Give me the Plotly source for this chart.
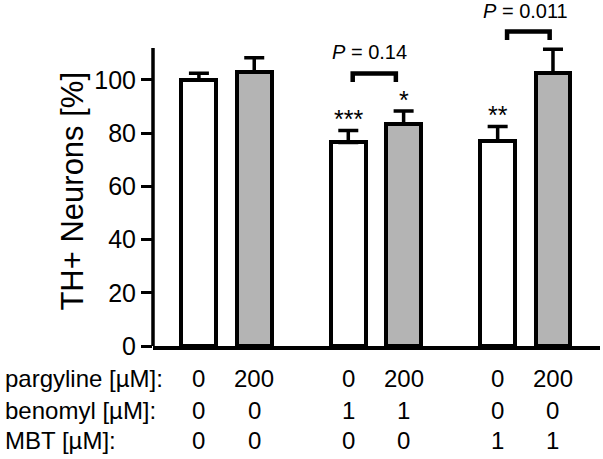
import plotly.graph_objects as go

# ---- data ----
positions = [0, 1, 2.7, 3.7, 5.4, 6.4]
values = [100, 103, 76.5, 83.5, 77, 102.5]
errors = [2.5, 5.3, 4.5, 4.8, 5.5, 9.0]
fills = ["white", "#b4b4b4", "white", "#b4b4b4", "white", "#b4b4b4"]
stars = ["", "", "***", "*", "**", ""]

pargyline = ["0", "200", "0", "200", "0", "200"]
benomyl = ["0", "0", "1", "1", "0", "0"]
mbt = ["0", "0", "0", "0", "1", "1"]
row_labels = ["pargyline [µM]:", "benomyl [µM]:", "MBT [µM]:"]

brackets = [  # (x_left, x_right, y_top, y_leg, label, label_x, label_y)
    (2.78, 3.56, 102.4, 99.2, "<i>P</i> = 0.14", 3.08, 110.5),
    (5.57, 6.34, 118.2, 115.0, "<i>P</i> = 0.011", 5.90, 125.8),
]

yticks = [0, 20, 40, 60, 80, 100]
y_axis_top = 112
y_range = [0, 130]

FONT = "Arial, 'Liberation Sans', sans-serif"

fig = go.Figure()
fig.add_trace(go.Bar(
    x=positions, y=values, width=0.63,
    marker=dict(color=fills, line=dict(color="black", width=4)),
    error_y=dict(type="data", array=errors, arrayminus=[0] * len(errors),
                 symmetric=False, color="black", thickness=3.5, width=10),
    showlegend=False,
))

annotations = []
# stars
for x, v, e, s in zip(positions, values, errors, stars):
    if s:
        annotations.append(dict(x=x, y=v + e, xref="x", yref="y", text=s,
                                showarrow=False, yanchor="bottom", yshift=-5,
                                font=dict(family=FONT, size=25, color="black")))
# brackets + p labels
shapes = []
for xl, xr, yt, yl, lab, lx, ly in brackets:
    shapes.append(dict(type="path", xref="x", yref="y",
                       path=f"M {xl},{yl} L {xl},{yt} L {xr},{yt} L {xr},{yl}",
                       line=dict(color="black", width=4.5)))
    annotations.append(dict(x=lx, y=ly, xref="x", yref="y", text=lab,
                            showarrow=False, yanchor="middle",
                            font=dict(family=FONT, size=20, color="black")))

# manual y axis line (stops at ~112)
shapes.append(dict(type="line", xref="paper", yref="paper", x0=0, x1=0,
                   y0=0, y1=y_axis_top / y_range[1],
                   line=dict(color="black", width=3.5)))

# table below
row_y = [-0.0925, -0.185, -0.2717]
for lab, ry in zip(row_labels, row_y):
    annotations.append(dict(x=-0.3356, y=ry, xref="paper", yref="paper",
                            text=lab, showarrow=False, xanchor="left",
                            yanchor="middle",
                            font=dict(family=FONT, size=24, color="black")))
for row, ry in zip([pargyline, benomyl, mbt], row_y):
    for x, t in zip(positions, row):
        annotations.append(dict(x=x, y=ry, xref="x", yref="paper", text=t,
                                showarrow=False, xanchor="center",
                                yanchor="middle",
                                font=dict(family=FONT, size=24, color="black")))

# y title
annotations.append(dict(x=-0.181, y=0.4465, xref="paper", yref="paper",
                        text="TH+ Neurons [%]", textangle=-90, showarrow=False,
                        xanchor="center", yanchor="middle",
                        font=dict(family=FONT, size=31, color="black")))

fig.update_layout(
    width=603, height=459,
    margin=dict(l=153, r=3, t=0, b=113),
    plot_bgcolor="white", paper_bgcolor="white",
    bargap=0,
    hovermode=False,
    xaxis=dict(range=[-0.83, 7.25], showgrid=False, zeroline=False,
               showticklabels=False, ticks="", showline=True,
               linecolor="black", linewidth=3.5),
    yaxis=dict(range=y_range, tickvals=yticks, showgrid=False, zeroline=False,
               showline=False, ticks="outside", ticklen=11, tickwidth=3,
               tickcolor="black",
               tickfont=dict(family=FONT, size=25, color="black")),
    shapes=shapes,
    annotations=annotations,
)

fig.write_html("out.html",
               config={"displayModeBar": False},
               post_script="document.body.style.margin='0';"
                           "document.body.style.overflow='hidden';")
